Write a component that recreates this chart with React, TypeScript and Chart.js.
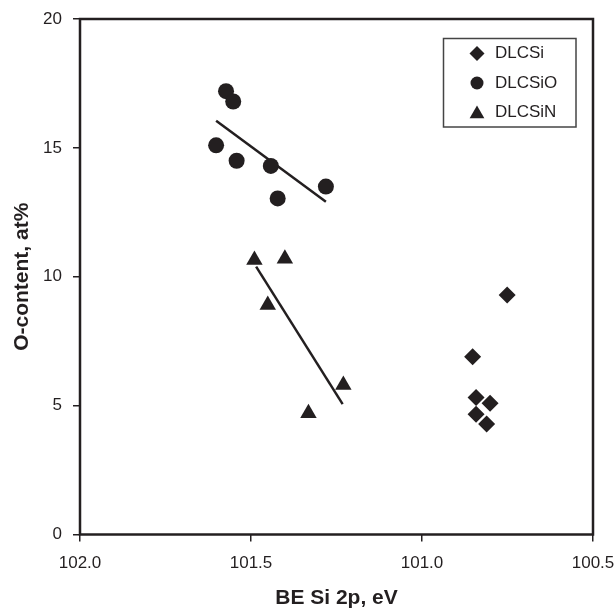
import React, { useEffect, useRef } from "react";
import { Chart, registerables } from "chart.js";
import { drawPoint } from "chart.js/helpers";

Chart.register(...registerables);

// DLCSi (diamonds)
const siX = [100.751, 100.852, 100.842, 100.801, 100.842, 100.811];
const siY = [9.29, 6.9, 5.32, 5.09, 4.67, 4.29];
// DLCSiO (circles)
const sioX = [101.573, 101.552, 101.602, 101.542, 101.442, 101.422, 101.281];
const sioY = [17.2, 16.8, 15.1, 14.5, 14.3, 13.04, 13.5];
// DLCSiN (triangles)
const sinX = [101.49, 101.401, 101.451, 101.23, 101.332];
const sinY = [10.65, 10.7, 8.9, 5.8, 4.7];
// Trend lines (endpoints)
const trendOX = [101.602, 101.281];
const trendOY = [16.05, 12.91];
const trendNX = [101.485, 101.232];
const trendNY = [10.39, 5.06];

const xTicks = [102.0, 101.5, 101.0, 100.5];
const yTicks = [0, 5, 10, 15, 20];
const seriesNames = ["DLCSi", "DLCSiO", "DLCSiN"];

const INK = "#231f20";
const FONT = "'Liberation Sans', Arial, Helvetica, sans-serif";

const pts = (xs: number[], ys: number[]) => xs.map((x, i) => ({ x, y: ys[i] }));

const framePlugin = {
  id: "frame",
  beforeDatasetsDraw(chart: any) {
    const { ctx, chartArea: a } = chart;
    ctx.save();
    ctx.strokeStyle = INK;
    ctx.lineWidth = 2.5;
    ctx.strokeRect(a.left, a.top, a.right - a.left, a.bottom - a.top);
    ctx.restore();
  },
};

const legendPlugin = {
  id: "customLegend",
  afterDraw(chart: any) {
    const { ctx } = chart;
    ctx.save();
    ctx.strokeStyle = "#444";
    ctx.lineWidth = 1.5;
    ctx.strokeRect(443.5, 38.5, 132.5, 88.5);
    const styles = [
      { pointStyle: "rectRot", radius: 7.5 },
      { pointStyle: "circle", radius: 6.5 },
      { pointStyle: "triangle", radius: 8.5 },
    ];
    const ys = [53.5, 83, 112];
    const markerY = [53.5, 83, 114];
    ctx.font = `17px ${FONT}`;
    ctx.textBaseline = "middle";
    ctx.textAlign = "left";
    seriesNames.forEach((name, i) => {
      ctx.fillStyle = INK;
      drawPoint(ctx, { ...styles[i], rotation: 0, borderWidth: 0 } as any, 477, markerY[i]);
      ctx.fillStyle = INK;
      ctx.fillText(name, 495, ys[i]);
    });
    ctx.restore();
  },
};

export default function App() {
  const ref = useRef<HTMLCanvasElement>(null);
  useEffect(() => {
    if (!ref.current) return;
    const marker = (style: string, r: number) => ({
      pointStyle: style,
      pointRadius: r,
      pointHoverRadius: r,
      backgroundColor: INK,
      borderColor: INK,
      pointBorderWidth: 0,
      showLine: false,
    });
    const chart = new Chart(ref.current, {
      type: "scatter",
      data: {
        datasets: [
          { label: seriesNames[0], data: pts(siX, siY), ...marker("rectRot", 8.5) } as any,
          { label: seriesNames[1], data: pts(sioX, sioY), ...marker("circle", 8) } as any,
          { label: seriesNames[2], data: pts(sinX, sinY), ...marker("triangle", 9.5) } as any,
          {
            label: "trendO",
            data: pts(trendOX, trendOY),
            showLine: true,
            borderColor: INK,
            borderWidth: 2.5,
            pointRadius: 0,
          } as any,
          {
            label: "trendN",
            data: pts(trendNX, trendNY),
            showLine: true,
            borderColor: INK,
            borderWidth: 2.5,
            pointRadius: 0,
          } as any,
        ],
      },
      options: {
        animation: false,
        responsive: false,
        layout: { padding: { left: 0, right: 21, top: 19, bottom: 0 } },
        plugins: { legend: { display: false }, tooltip: { enabled: false } },
        scales: {
          x: {
            type: "linear",
            reverse: true,
            min: 100.5,
            max: 102.0,
            afterBuildTicks: (s: any) => {
              s.ticks = xTicks.map((v) => ({ value: v }));
            },
            afterFit: (s: any) => {
              s.height = 77.5;
              s.paddingLeft = 0;
              s.paddingRight = 0;
            },
            ticks: {
              color: INK,
              font: { family: FONT, size: 17 },
              padding: 12,
              maxRotation: 0,
              callback: (v: any) => Number(v).toFixed(1),
            },
            grid: {
              drawOnChartArea: false,
              drawTicks: true,
              tickLength: 7,
              color: INK,
              lineWidth: 1.5,
            },
            border: { display: false },
            title: {
              display: true,
              text: "BE Si 2p, eV",
              color: INK,
              font: { family: FONT, size: 21, weight: "bold" },
              padding: { top: 0, bottom: 1 },
            },
          },
          y: {
            type: "linear",
            min: 0,
            max: 20,
            afterBuildTicks: (s: any) => {
              s.ticks = yTicks.map((v) => ({ value: v }));
            },
            afterFit: (s: any) => {
              s.width = 80;
              s.paddingTop = 0;
              s.paddingBottom = 0;
            },
            ticks: {
              color: INK,
              font: { family: FONT, size: 17 },
              padding: 11,
            },
            grid: {
              drawOnChartArea: false,
              drawTicks: true,
              tickLength: 7,
              color: INK,
              lineWidth: 1.5,
            },
            border: { display: false },
            title: {
              display: true,
              text: "O-content, at%",
              color: INK,
              font: { family: FONT, size: 21, weight: "bold" },
              padding: { top: 10, bottom: 0 },
            },
          },
        },
      } as any,
      plugins: [framePlugin, legendPlugin],
    });
    return () => chart.destroy();
  }, []);
  return (
    <div style={{ position: "fixed", left: 0, top: 0, width: 614, height: 612, background: "#fff" }}>
      <canvas ref={ref} width={614} height={612} style={{ width: 614, height: 612 }} />
    </div>
  );
}
